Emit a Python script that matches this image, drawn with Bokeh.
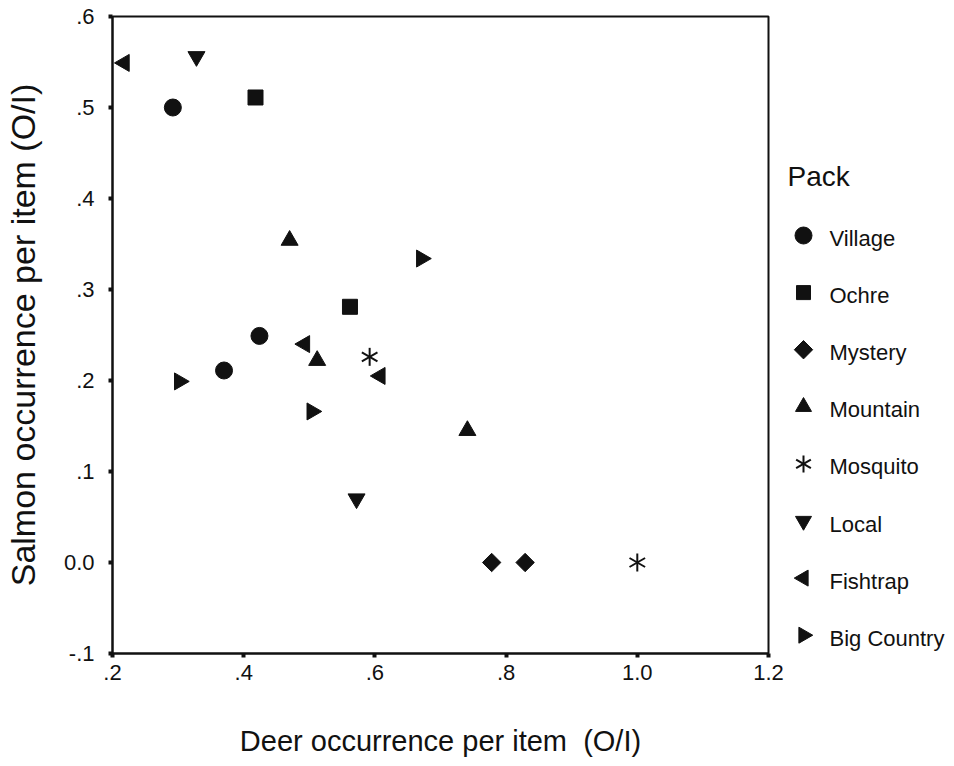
import math
from bokeh.plotting import figure
from bokeh.layouts import row
from bokeh.models import Range1d, FixedTicker
from bokeh.core.properties import value
from bokeh.embed import file_html
from bokeh.resources import INLINE

# ---- data ----
packs = ["Village", "Ochre", "Mystery", "Mountain", "Mosquito", "Local", "Fishtrap", "Big Country"]

village_x = [0.292, 0.424, 0.370]
village_y = [0.500, 0.249, 0.211]
ochre_x = [0.418, 0.562]
ochre_y = [0.511, 0.281]
mystery_x = [0.778, 0.829]
mystery_y = [0.000, 0.000]
mountain_x = [0.470, 0.512, 0.741]
mountain_y = [0.354, 0.222, 0.145]
mosquito_x = [0.592, 1.000]
mosquito_y = [0.226, 0.000]
local_x = [0.328, 0.572]
local_y = [0.556, 0.070]
fishtrap_x = [0.218, 0.493, 0.608]
fishtrap_y = [0.549, 0.240, 0.205]
bigcountry_x = [0.302, 0.504, 0.671]
bigcountry_y = [0.199, 0.166, 0.334]

x_ticks = [0.2, 0.4, 0.6, 0.8, 1.0, 1.2]
x_tick_labels = [".2", ".4", ".6", ".8", "1.0", "1.2"]
y_ticks = [-0.1, 0.0, 0.1, 0.2, 0.3, 0.4, 0.5, 0.6]
y_tick_labels = ["-.1", "0.0", ".1", ".2", ".3", ".4", ".5", ".6"]

x_title = "Deer occurrence per item \u00a0(O/I)"
y_title = "Salmon occurrence per item (O/I)"
legend_title = "Pack"

series = {
    "Village": (village_x, village_y),
    "Ochre": (ochre_x, ochre_y),
    "Mystery": (mystery_x, mystery_y),
    "Mountain": (mountain_x, mountain_y),
    "Mosquito": (mosquito_x, mosquito_y),
    "Local": (local_x, local_y),
    "Fishtrap": (fishtrap_x, fishtrap_y),
    "Big Country": (bigcountry_x, bigcountry_y),
}

# ---- styles ----
FONT = "Liberation Sans"
INK = "#111111"
# (marker, angle, plot size, legend size)
STYLE = {
    "Village": ("circle", 0.0, 17, 17),
    "Ochre": ("square", 0.0, 15, 14),
    "Mystery": ("square", math.pi / 4, 13, 13),
    "Mountain": ("triangle", 0.0, 17, 16),
    "Mosquito": ("asterisk6", 0.0, 18, 17),
    "Local": ("inverted_triangle", 0.0, 17, 16),
    "Fishtrap": ("triangle", math.pi / 2, 17, 16),
    "Big Country": ("triangle", -math.pi / 2, 17, 16),
}


def draw_marker(fig, xs, ys, name, legend=False):
    marker, angle, size, lsize = STYLE[name]
    s = lsize if legend else size
    if marker == "asterisk6":
        for a in (math.pi / 2, math.pi / 6, -math.pi / 6):
            fig.scatter(xs, ys, marker="dash", size=s, angle=a, line_color=INK, line_width=2)
    else:
        fig.scatter(xs, ys, marker=marker, size=s, angle=angle, color=INK)


# ---- geometry (page pixels; the page has no margin) ----
MAIN_W, LEG_W, H = 786, 166, 764
F_LEFT, F_RIGHT, F_TOP, F_BOTTOM = 110, 768, 16, 653

# ---- main plot ----
p = figure(width=MAIN_W, height=H, output_backend="svg", toolbar_location=None,
           x_range=Range1d(0.2, 1.2), y_range=Range1d(-0.1, 0.6),
           min_border_left=F_LEFT, min_border_right=MAIN_W - F_RIGHT,
           min_border_top=F_TOP, min_border_bottom=H - F_BOTTOM)
p.background_fill_color = "white"
p.border_fill_color = "white"
p.xgrid.visible = False
p.ygrid.visible = False
p.outline_line_color = INK
p.outline_line_width = 2
p.outline_line_alpha = 1.0

for ax, ticks, labels in ((p.xaxis[0], x_ticks, x_tick_labels), (p.yaxis[0], y_ticks, y_tick_labels)):
    ax.ticker = FixedTicker(ticks=ticks)
    ax.major_label_overrides = {t: l for t, l in zip(ticks, labels)}
    ax.minor_tick_line_color = None
    ax.major_tick_in = 0
    ax.major_tick_out = 4
    ax.major_tick_line_width = 4
    ax.major_tick_line_color = INK
    ax.axis_line_width = 2
    ax.axis_line_color = INK
    ax.major_label_text_font = FONT
    ax.major_label_text_font_size = "22px"
    ax.major_label_text_color = INK
    ax.axis_label_text_font = FONT
    ax.axis_label_text_font_style = "normal"
    ax.axis_label_text_color = INK

p.xaxis.axis_label = x_title
p.yaxis.axis_label = y_title
p.xaxis.major_label_standoff = 7
p.yaxis.major_label_standoff = 14
p.xaxis.axis_label_text_font_size = "29px"
p.yaxis.axis_label_text_font_size = "34px"
p.xaxis.axis_label_standoff = 42
p.yaxis.axis_label_standoff = 19

for name in packs:
    xs, ys = series[name]
    draw_marker(p, xs, ys, name)

# ---- legend panel: its own small figure whose data units are page pixels ----
lg = figure(width=LEG_W, height=H, output_backend="svg", toolbar_location=None,
            x_range=Range1d(MAIN_W, MAIN_W + LEG_W), y_range=Range1d(F_BOTTOM, F_TOP),
            min_border_left=0, min_border_right=0,
            min_border_top=F_TOP, min_border_bottom=H - F_BOTTOM)
lg.axis.visible = False
lg.xgrid.visible = False
lg.ygrid.visible = False
lg.outline_line_color = None
lg.background_fill_color = "white"
lg.border_fill_color = "white"

TITLE_X, TITLE_Y = 787, 176
GLYPH_X, LABEL_X = 803, 829
ITEM_Y0, ITEM_PITCH, GLYPH_DY = 238, 57.1, -3

lg.text(x=[TITLE_X], y=[TITLE_Y], text=[legend_title], text_font=value(FONT),
        text_font_size="28px", text_color=INK, text_baseline="middle", text_align="left")
item_y = [ITEM_Y0 + i * ITEM_PITCH for i in range(len(packs))]
for name, yy in zip(packs, item_y):
    draw_marker(lg, [GLYPH_X], [yy + GLYPH_DY], name, legend=True)
lg.text(x=[LABEL_X] * len(packs), y=item_y, text=packs, text_font=value(FONT),
        text_font_size="22px", text_color=INK, text_baseline="middle", text_align="left")

layout = row(p, lg, spacing=0)
open("out.html", "w").write(file_html(layout, INLINE))
